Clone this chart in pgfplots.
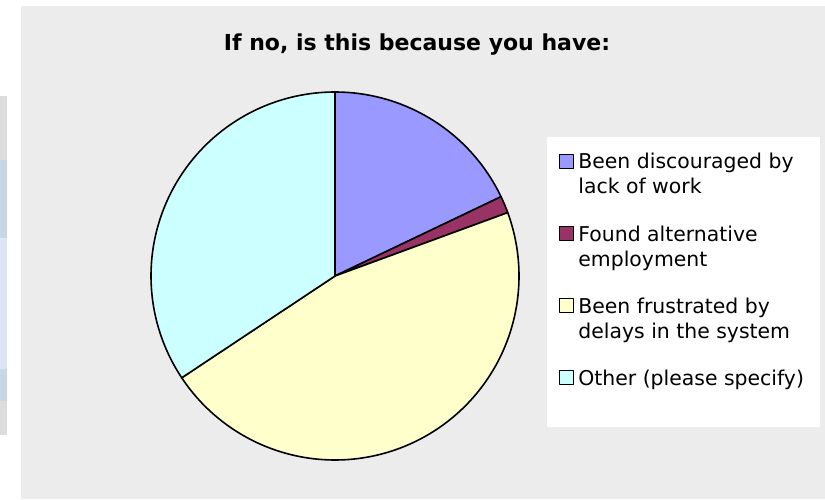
\documentclass[border=0pt]{standalone}
\usepackage{fontspec}
\setmainfont{DejaVu Sans}
\usepackage{pgfplots}
\pgfplotsset{compat=1.18}
\definecolor{bg}{HTML}{ECECEC}
\definecolor{sBlue}{HTML}{9999FF}
\definecolor{sMaroon}{HTML}{993366}
\definecolor{sYellow}{HTML}{FFFFCC}
\definecolor{sCyan}{HTML}{CCFFFF}
\definecolor{tGray}{HTML}{DCDCDC}
\definecolor{tBlueA}{HTML}{C9D6E6}
\definecolor{tBlueB}{HTML}{DCE6F4}
% counts per answer (clockwise from 12 o'clock)
\def\cA{12}\def\cB{1}\def\cC{31}\def\cD{23}
\pgfmathsetmacro\tot{\cA+\cB+\cC+\cD}
\pgfmathsetmacro\aZero{90}
\pgfmathsetmacro\aOne{\aZero-\cA/\tot*360}
\pgfmathsetmacro\aTwo{\aOne-\cB/\tot*360}
\pgfmathsetmacro\aThree{\aTwo-\cC/\tot*360}
\pgfmathsetmacro\aFour{\aThree-\cD/\tot*360}
\def\cx{335}\def\cy{223}\def\rr{184}
\begin{document}
\begin{tikzpicture}
\begin{axis}[x=0.5pt, y=0.5pt, xmin=0, xmax=825, ymin=0, ymax=499,
  hide axis, clip=false, enlargelimits=false,
  legend image code/.code={\draw[#1, draw=black, line width=0.5pt] (0pt,2.75pt) rectangle (7pt,9.75pt);},
  legend style={at={(axis cs:547,362)}, anchor=north west, fill=white, draw=none,
    inner xsep=6pt, inner ysep=5pt, row sep=9.3pt,
    font=\fontsize{10.2}{12.5}\selectfont, cells={anchor=west, align=left}},
  legend cell align=left,
]
\coordinate (BL) at (axis cs:0,0);
\coordinate (TR) at (axis cs:825,499);
% background
\fill[bg] (axis cs:21,0) rectangle (axis cs:825,493);
\fill[tGray] (axis cs:0,339) rectangle (axis cs:7,403);
\fill[tBlueA] (axis cs:0,261) rectangle (axis cs:7,339);
\fill[tBlueB] (axis cs:0,130) rectangle (axis cs:7,261);
\fill[tBlueA] (axis cs:0,98) rectangle (axis cs:7,130);
\fill[tGray] (axis cs:0,64) rectangle (axis cs:7,98);
% slices
\addplot[fill=sBlue, draw=black, line width=0.8pt, line join=round, domain=\aOne:\aZero, samples=80]
  ({\cx+\rr*cos(x)},{\cy+\rr*sin(x)}) -- (axis cs:\cx,\cy) -- cycle;
\addlegendentry{\strut Been discouraged by\\\strut lack of work}
\addplot[fill=sMaroon, draw=black, line width=0.8pt, line join=round, domain=\aTwo:\aOne, samples=10]
  ({\cx+\rr*cos(x)},{\cy+\rr*sin(x)}) -- (axis cs:\cx,\cy) -- cycle;
\addlegendentry{\strut Found alternative\\\strut employment}
\addplot[fill=sYellow, draw=black, line width=0.8pt, line join=round, domain=\aThree:\aTwo, samples=150]
  ({\cx+\rr*cos(x)},{\cy+\rr*sin(x)}) -- (axis cs:\cx,\cy) -- cycle;
\addlegendentry{\strut Been frustrated by\\\strut delays in the system}
\addplot[fill=sCyan, draw=black, line width=0.8pt, line join=round, domain=\aFour:\aThree, samples=120]
  ({\cx+\rr*cos(x)},{\cy+\rr*sin(x)}) -- (axis cs:\cx,\cy) -- cycle;
\addlegendentry{\strut Other (please specify)\\\strut}
% title
\node[font=\fontsize{11}{13}\selectfont\bfseries] at (axis cs:417,454) {If no, is this because you have:};
\end{axis}
\pgfresetboundingbox
\path[use as bounding box] (BL) rectangle (TR);
\end{tikzpicture}
\end{document}
